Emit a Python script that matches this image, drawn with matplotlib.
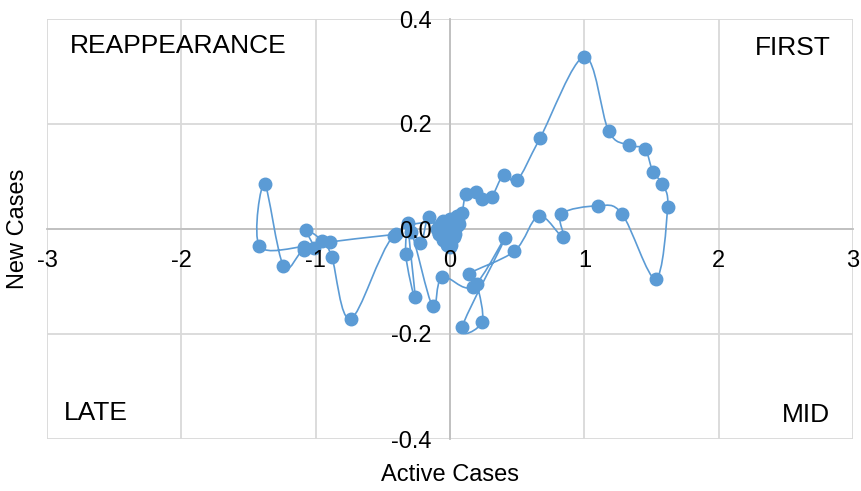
import numpy as np
import matplotlib
matplotlib.use("Agg")
import matplotlib.pyplot as plt
from matplotlib.path import Path
from matplotlib.patches import PathPatch

plt.rcParams['font.family'] = ['Liberation Sans', 'DejaVu Sans']
plt.rcParams['axes.unicode_minus'] = False

# trajectory, in time order (active cases, new cases)
active = [-0.10, -0.07, -0.05, -0.03, 0.00, 0.02, 0.04, 0.05, -0.08, -0.06,
          -0.04, -0.02, -0.01, 0.01, 0.02, 0.04, -0.05, -0.03, -0.02, 0.00,
          0.01, 0.03, -0.01, 0.00, -0.03, 0.02, 0.05, 0.06, 0.07, 0.09,
          0.12, 0.19, 0.24, 0.31, 0.40, 0.50, 0.67, 1.00, 1.18, 1.33, 1.45,
          1.51, 1.58, 1.62, 1.53, 1.28, 1.10, 0.83, 0.84, 0.66, 0.48, 0.14,
          0.20, 0.24, 0.09, 0.41, 0.17, -0.06, -0.13, -0.29, -0.33, -0.26,
          -0.31, -0.22, -0.16, -0.08, -0.02, 0.00, -0.07, -0.42, -0.74, -0.88,
          -0.95, -1.07, -1.01, -1.09, -1.42, -1.38, -1.24, -1.09, -0.89, -0.40]
new = [0.000, 0.010, 0.015, 0.012, 0.020, 0.015, 0.010, 0.005, -0.010, -0.005,
       0.000, 0.005, -0.010, -0.005, 0.000, -0.010, -0.020, -0.015, -0.025, -0.020,
       -0.030, -0.015, 0.010, 0.000, 0.005, 0.020, 0.025, 0.015, 0.010, 0.030,
       0.067, 0.070, 0.057, 0.061, 0.103, 0.093, 0.173, 0.328, 0.187, 0.160, 0.152,
       0.109, 0.086, 0.042, -0.095, 0.029, 0.044, 0.029, -0.015, 0.025, -0.042, -0.086,
       -0.105, -0.177, -0.187, -0.017, -0.110, -0.091, -0.147, -0.005, -0.048, -0.130,
       0.012, -0.027, 0.023, -0.010, -0.030, -0.035, 0.010, -0.013, -0.171, -0.053,
       -0.023, -0.002, -0.037, -0.034, -0.032, 0.086, -0.070, -0.040, -0.025, -0.010]

x_ticks = [-3, -2, -1, 0, 1, 2, 3]
y_ticks = [-0.4, -0.2, 0.0, 0.2, 0.4]
y_labels = ['-0.4', '-0.2', '0.0', '0.2', '0.4']

blue = '#5B9BD5'
grid_c = '#d9d9d9'


def smooth_path(xs, ys):
    """Excel-like smoothed line as cubic bezier segments"""
    pts = np.column_stack([xs, ys])
    n = len(pts)
    verts = [pts[0]]
    codes = [Path.MOVETO]
    for i in range(n - 1):
        p0 = pts[max(i - 1, 0)]
        p1 = pts[i]
        p2 = pts[i + 1]
        p3 = pts[min(i + 2, n - 1)]
        c1 = p1 + (p2 - p0) / 6.0
        c2 = p2 - (p3 - p1) / 6.0
        verts += [c1, c2, p2]
        codes += [Path.CURVE4] * 3
    return Path(verts, codes)


fig = plt.figure(figsize=(8.62, 4.91), dpi=100)
ax = fig.add_axes([47 / 862, 52 / 491, 806 / 862, 420 / 491])

ax.set_xlim(-3, 3)
ax.set_ylim(-0.4, 0.4)
ax.set_xticks(x_ticks)
ax.set_yticks(y_ticks)
ax.set_yticklabels(y_labels)

# grid lines drawn by hand so the tick labels can sit above the markers
for xv in x_ticks:
    ax.axvline(xv, color=grid_c, linewidth=1.3, zorder=0)
for yv in y_ticks:
    ax.axhline(yv, color=grid_c, linewidth=1.3, zorder=0)

for s in ['top', 'right']:
    ax.spines[s].set_visible(False)
ax.spines['left'].set_position(('data', 0))
ax.spines['bottom'].set_position(('data', 0))
for s in ['left', 'bottom']:
    ax.spines[s].set_color('#bfbfbf')
    ax.spines[s].set_linewidth(1.3)
    ax.spines[s].set_zorder(0.2)

ax.tick_params(axis='x', length=0, pad=15, labelsize=17)
ax.tick_params(axis='y', length=0, pad=13, labelsize=17)
ax.xaxis.set_zorder(6)
ax.yaxis.set_zorder(6)

ax.add_patch(PathPatch(smooth_path(active, new), facecolor='none',
                       edgecolor=blue, linewidth=1.2, zorder=3))
ax.plot(active, new, linestyle='none', marker='o', markersize=9,
        color=blue, zorder=4)

ax.text(0.028, 0.935, 'REAPPEARANCE', transform=ax.transAxes, fontsize=19,
        ha='left', va='center')
ax.text(0.972, 0.93, 'FIRST', transform=ax.transAxes, fontsize=19,
        ha='right', va='center')
ax.text(0.021, 0.062, 'LATE', transform=ax.transAxes, fontsize=19,
        ha='left', va='center')
ax.text(0.972, 0.057, 'MID', transform=ax.transAxes, fontsize=19,
        ha='right', va='center')

fig.text(450 / 862, 1 - 475 / 491, 'Active Cases', fontsize=17,
         ha='center', va='center')
fig.text(18 / 862, 1 - 229 / 491, 'New Cases', fontsize=17,
         ha='center', va='center', rotation=90)

fig.savefig('out.png', dpi=100)
